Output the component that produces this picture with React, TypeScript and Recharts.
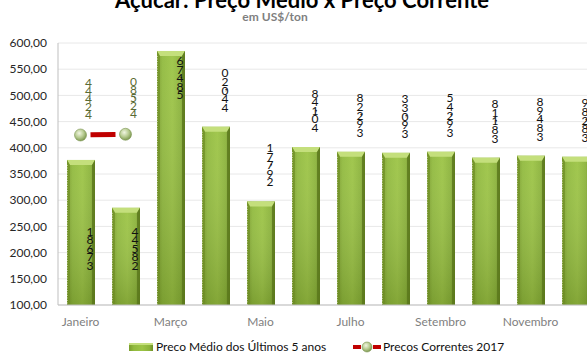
import React from 'react';
import { ComposedChart, Bar, Line, XAxis, YAxis, CartesianGrid, LabelList } from 'recharts';

const months = ['Janeiro', 'Fevereiro', 'Março', 'Abril', 'Maio', 'Junho', 'Julho', 'Agosto', 'Setembro', 'Outubro', 'Novembro', 'Dezembro'];
const avgPrices = [376.81, 285.44, 584.76, 440.2, 297.71, 401.48, 392.28, 390.33, 392.45, 381.18, 384.98, 382.89];
const currentPrices: (number | null)[] = [424.44, 425.8, null, null, null, null, null, null, null, null, null, null];
const yTicks = [100, 150, 200, 250, 300, 350, 400, 450, 500, 550, 600];

const title = 'Açúcar: Preço Médio x Preço Corrente';
const subtitle = 'em US$/ton';
const avgName = 'Preco Médio dos Últimos 5 anos';
const curName = 'Precos Correntes 2017';

const data = months.map((m, i) => ({ month: m, avg: avgPrices[i], cur: currentPrices[i] }));

const FONT = "Lato, 'Open Sans', sans-serif";
const PLOT_TOP = 43;
const fmt = (v: number) => v.toFixed(2).replace('.', ',');

function StackedText({ x, bottom, value, step, color }: { x: number; bottom: number; value: number; step: number; color: string }) {
  const chars = fmt(value).split('');
  const out: React.ReactNode[] = [];
  let slot = 0;
  chars.forEach((c, i) => {
    if (c === ',') {
      out.push(
        <text key={i} x={x + 1} y={bottom - (slot - 0.5) * step} fontSize={12} fill={color} textAnchor="middle" fontFamily={FONT}>
          {c}
        </text>
      );
      return;
    }
    out.push(
      <text key={i} x={x} y={bottom - slot * step} fontSize={12} fill={color} textAnchor="middle" fontFamily={FONT}>
        {c}
      </text>
    );
    slot += 1;
  });
  return <g>{out}</g>;
}

const BarLabel = (props: any) => {
  const { x, y, width, height, value, index } = props;
  const step = 8.6;
  const cx = x + width / 2 + 9;
  let bottom: number;
  if (currentPrices[index] != null) {
    bottom = y + height - 35;
  } else {
    const above = y - 15;
    const topOfLabel = above - 4 * step - 9;
    if (topOfLabel < PLOT_TOP) bottom = y + 14 + 4 * step;
    else bottom = above;
  }
  return <StackedText x={cx} bottom={bottom} value={value} step={step} color="#111" />;
};

const LineLabel = (props: any) => {
  const { x, y, value } = props;
  if (value == null) return null;
  return <StackedText x={x + 8} bottom={y - 16} value={value} step={8} color="#5a6b33" />;
};

const BarShape = (props: any) => {
  const { x, y, width, height } = props;
  if (!height || height <= 0) return null;
  const b = 5;
  return (
    <g>
      <rect x={x} y={y} width={width} height={height} fill="url(#barGradH)" />
      <rect x={x} y={y} width={width} height={height} fill="url(#barGradV)" />
      <polygon points={`${x},${y} ${x + width},${y} ${x + width - 3},${y + b} ${x + 3},${y + b}`} fill="#c4df7c" />
      <polygon points={`${x},${y} ${x + 3},${y + b} ${x + 3},${y + height} ${x},${y + height}`} fill="#6f8f25" opacity={0.7} />
      <polygon points={`${x + width},${y} ${x + width - 3},${y + b} ${x + width - 3},${y + height} ${x + width},${y + height}`} fill="#5a771b" opacity={0.8} />
      <line x1={x + 0.5} y1={y + b} x2={x + 0.5} y2={y + height} stroke="#e8f0d0" strokeWidth={0.6} strokeDasharray="1 1.5" />
    </g>
  );
};

const Dot = (props: any) => {
  const { cx, cy, value } = props;
  if (value == null || cx == null || cy == null) return null;
  return <circle cx={cx} cy={cy} r={6} fill="url(#dotGrad)" stroke="#7a9450" strokeWidth={0.6} />;
};

export default function App() {
  return (
    <div style={{ position: 'absolute', left: 0, top: 0, width: 587, height: 353, overflow: 'hidden', background: '#fff', fontFamily: FONT }}>
      <ComposedChart width={610} height={353} data={data} margin={{ top: PLOT_TOP, right: 12, bottom: 18, left: 0 }} barSize={28}>
        <defs>
          <linearGradient id="barGradH" x1="0" y1="0" x2="1" y2="0">
            <stop offset="0%" stopColor="#7a9d2c" />
            <stop offset="20%" stopColor="#91ba3e" />
            <stop offset="55%" stopColor="#9cc445" />
            <stop offset="85%" stopColor="#8bb33a" />
            <stop offset="100%" stopColor="#6e8f25" />
          </linearGradient>
          <linearGradient id="barGradV" x1="0" y1="0" x2="0" y2="1">
            <stop offset="0%" stopColor="#ffffff" stopOpacity={0.05} />
            <stop offset="100%" stopColor="#2c3d05" stopOpacity={0.22} />
          </linearGradient>
          <radialGradient id="dotGrad" cx="40%" cy="35%" r="65%">
            <stop offset="0%" stopColor="#f1f6e2" />
            <stop offset="55%" stopColor="#b8cc92" />
            <stop offset="100%" stopColor="#7f9a52" />
          </radialGradient>
        </defs>
        <CartesianGrid vertical={false} stroke="#e8e8e8" />
        <XAxis
          dataKey="month"
          interval={1}
          tickLine={false}
          axisLine={{ stroke: '#bfbfbf' }}
          tick={{ fill: '#7f7f7f', fontSize: 12, fontFamily: FONT }}
          tickMargin={6}
          height={30}
        />
        <YAxis
          domain={[100, 600]}
          ticks={yTicks}
          tickFormatter={fmt}
          tickLine={false}
          axisLine={{ stroke: '#bfbfbf' }}
          tick={{ fill: '#262626', fontSize: 12, fontFamily: FONT }}
          tickMargin={5}
          width={58}
          interval={0}
        />
        <Bar dataKey="avg" shape={<BarShape />} isAnimationActive={false}>
          <LabelList dataKey="avg" content={<BarLabel />} />
        </Bar>
        <Line
          dataKey="cur"
          stroke="#c00000"
          strokeWidth={5}
          strokeDasharray="0 10 25 10"
          dot={<Dot />}
          activeDot={false}
          connectNulls={false}
          isAnimationActive={false}
        >
          <LabelList dataKey="cur" content={<LineLabel />} />
        </Line>
      </ComposedChart>
      <svg width={587} height={353} style={{ position: 'absolute', left: 0, top: 0, pointerEvents: 'none' }}>
        <text x={302} y={8} textAnchor="middle" fontSize={22} fontWeight="bold" fill="#000" fontFamily={FONT}>
          {title}
        </text>
        <text x={275} y={21} textAnchor="middle" fontSize={12} fontWeight="bold" fill="#7f7f7f" fontFamily={FONT}>
          {subtitle}
        </text>
        <g>
          <rect x={129} y={343} width={24} height={8} fill="url(#barGradH)" />
          <rect x={129} y={343} width={24} height={2} fill="#c4df7c" />
          <text x={156} y={351} fontSize={12} fill="#111" fontFamily={FONT}>
            {avgName}
          </text>
        </g>
        <g>
          <rect x={353} y={345} width={8} height={4} fill="#c00000" />
          <rect x={373} y={345} width={8} height={4} fill="#c00000" />
          <circle cx={367} cy={347} r={5} fill="url(#dotGrad)" stroke="#7a9450" strokeWidth={0.6} />
          <text x={383} y={351} fontSize={12} fill="#111" fontFamily={FONT}>
            {curName}
          </text>
        </g>
      </svg>
    </div>
  );
}
